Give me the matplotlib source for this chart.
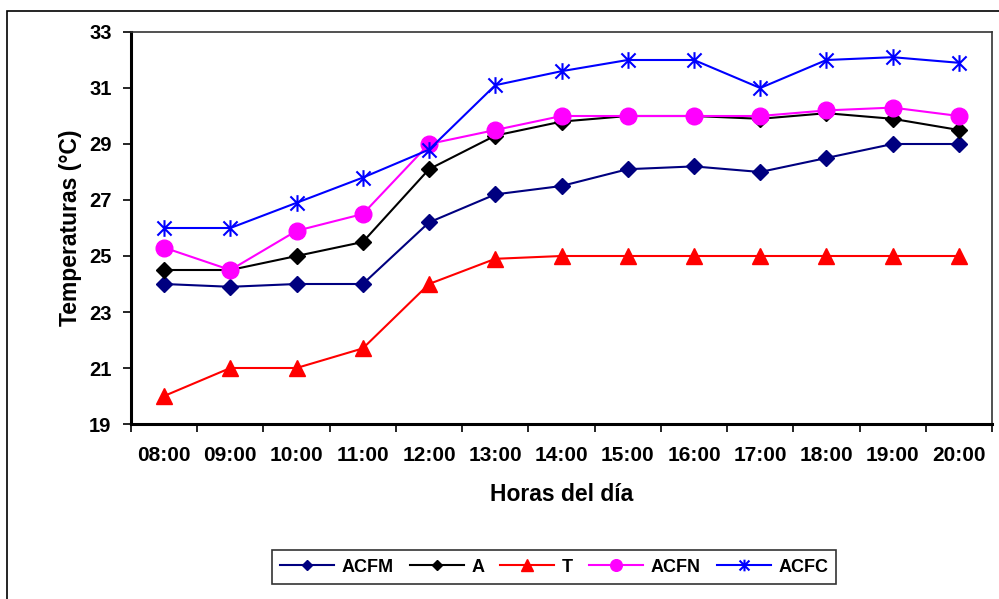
import matplotlib
matplotlib.use("Agg")
import matplotlib.pyplot as plt
from matplotlib.path import Path
from matplotlib.patches import Rectangle

hours = ["08:00", "09:00", "10:00", "11:00", "12:00", "13:00", "14:00",
         "15:00", "16:00", "17:00", "18:00", "19:00", "20:00"]
acfm = [24.0, 23.9, 24.0, 24.0, 26.2, 27.2, 27.5, 28.1, 28.2, 28.0, 28.5, 29.0, 29.0]
a = [24.5, 24.5, 25.0, 25.5, 28.1, 29.3, 29.8, 30.0, 30.0, 29.9, 30.1, 29.9, 29.5]
t = [20.0, 21.0, 21.0, 21.7, 24.0, 24.9, 25.0, 25.0, 25.0, 25.0, 25.0, 25.0, 25.0]
acfn = [25.3, 24.5, 25.9, 26.5, 29.0, 29.5, 30.0, 30.0, 30.0, 30.0, 30.2, 30.3, 30.0]
acfc = [26.0, 26.0, 26.9, 27.8, 28.8, 31.1, 31.6, 32.0, 32.0, 31.0, 32.0, 32.1, 31.9]
yticks = [19, 21, 23, 25, 27, 29, 31, 33]

plt.rcParams['font.family'] = ['Liberation Sans', 'DejaVu Sans']
plt.rcParams['font.weight'] = 'bold'

W, H = 999, 599
fig = plt.figure(figsize=(W / 100, H / 100), dpi=100)
fig.patch.set_facecolor('white')
fig.patches.append(Rectangle((7 / W, -0.1), 1.2, 1 - 11 / H + 0.1, transform=fig.transFigure,
                             fill=False, edgecolor='black', linewidth=1.2))

ax = fig.add_axes([131 / W, 1 - 424 / H, 861 / W, 392 / H])
x = list(range(len(hours)))

star = Path([(0, -1), (0, 1), (-0.85, -0.85), (0.85, 0.85), (-0.85, 0.85), (0.85, -0.85)],
            [Path.MOVETO, Path.LINETO, Path.MOVETO, Path.LINETO, Path.MOVETO, Path.LINETO])

ax.plot(x, acfm, color='#000080', marker='D', markersize=8, lw=1.5, label='ACFM')
ax.plot(x, a, color='black', marker='D', markersize=8, lw=1.5, label='A')
ax.plot(x, t, color='#FF0000', marker='^', markersize=12, lw=1.5, label='T')
ax.plot(x, acfn, color='#FF00FF', marker='o', markersize=12, lw=1.5, label='ACFN')
ax.plot(x, acfc, color='#0000FF', marker=star, markersize=12, markeredgewidth=1.5,
        markerfacecolor='none', lw=1.5, label='ACFC')

ax.set_xlim(-0.5, len(hours) - 0.5)
ax.set_ylim(19, 33)
ax.set_yticks(yticks)
ax.set_yticklabels([str(v) for v in yticks], fontsize=14.5, fontweight='bold')
ax.set_xticks(x)
ax.set_xticklabels(hours, fontsize=15, fontweight='bold')
ax.set_xticks([i - 0.5 for i in range(len(hours) + 1)], minor=True)
ax.tick_params(axis='x', which='major', length=0, pad=16)
ax.tick_params(axis='x', which='minor', length=6, width=1.2, direction='out')
ax.tick_params(axis='y', length=6, width=1.2, direction='out', pad=8)

for s in ['left', 'bottom']:
    ax.spines[s].set_linewidth(2.2)
    ax.spines[s].set_color('black')
for s in ['top', 'right']:
    ax.spines[s].set_linewidth(1.2)
    ax.spines[s].set_color('#333333')

ax.set_ylabel('Temperaturas (°C)', fontsize=16.5, fontweight='bold', labelpad=5)
ax.set_xlabel('Horas del día', fontsize=16.5, fontweight='bold', labelpad=13)

leg = fig.legend(loc='center', bbox_to_anchor=(554 / W, 1 - 567 / H), ncol=5,
                 frameon=True, fancybox=False, prop={'size': 13, 'weight': 'bold'},
                 handlelength=3.0, handletextpad=0.4, columnspacing=0.9,
                 borderpad=0.45, markerscale=0.7)
leg.get_frame().set_edgecolor('black')
leg.get_frame().set_linewidth(1.2)

fig.savefig('out.png', dpi=100)
